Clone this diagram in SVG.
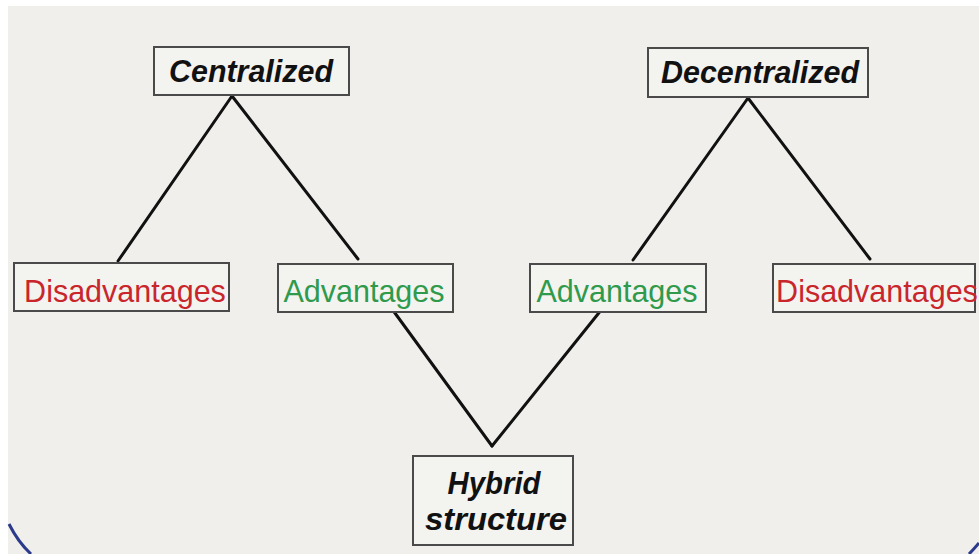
<svg xmlns="http://www.w3.org/2000/svg" width="979" height="554" viewBox="0 0 979 554">
<style>
.box{fill:#f3f3f0;stroke:#4a4a4a;stroke-width:2}
.title{font-family:"Liberation Sans",Arial,sans-serif;font-weight:bold;font-style:italic;font-size:31px;fill:#111;text-anchor:middle}
.lbl{font-family:"Liberation Sans",Arial,sans-serif;font-size:30.5px;text-anchor:middle}
.red{fill:#c9262c}
.green{fill:#2f9a4c}
.conn line{stroke:#111;stroke-width:3;stroke-linecap:round}
</style>
<rect x="0" y="0" width="979" height="554" fill="#ffffff"/>
<rect x="8" y="6" width="971" height="548" fill="#f0efeb"/>
<path d="M9,524 Q18,542 31,554" fill="none" stroke="#2b3a8c" stroke-width="3"/>
<path d="M969,554 Q974,549 979,543" fill="none" stroke="#2b3a8c" stroke-width="3"/>
<g class="conn" id="connectors">
<line x1="232" y1="96" x2="118" y2="261"/>
<line x1="232" y1="96" x2="358" y2="259"/>
<line x1="748" y1="98" x2="633" y2="260"/>
<line x1="748" y1="98" x2="870" y2="259"/>
<line x1="392" y1="309" x2="492" y2="446"/>
<line x1="602" y1="309" x2="492" y2="446"/>
</g>
<g id="centralized">
<rect class="box" x="154" y="47" width="195" height="48"/>
<text class="title" x="251" y="82" textLength="164" lengthAdjust="spacingAndGlyphs">Centralized</text>
</g>
<g id="decentralized">
<rect class="box" x="648" y="48" width="220" height="49"/>
<text class="title" x="760" y="83" textLength="198" lengthAdjust="spacingAndGlyphs">Decentralized</text>
</g>
<g id="disadvantages-left">
<rect class="box" x="14" y="263" width="215" height="48"/>
<text class="lbl red" x="125" y="302">Disadvantages</text>
</g>
<g id="advantages-left">
<rect class="box" x="278" y="264" width="175" height="48"/>
<text class="lbl green" x="364" y="302">Advantages</text>
</g>
<g id="advantages-right">
<rect class="box" x="530" y="264" width="176" height="48"/>
<text class="lbl green" x="617" y="302">Advantages</text>
</g>
<g id="disadvantages-right">
<rect class="box" x="773" y="264" width="202" height="48"/>
<text class="lbl red" x="877" y="302">Disadvantages</text>
</g>
<g id="hybrid">
<rect class="box" x="413" y="456" width="160" height="89"/>
<text class="title" x="494" y="494" textLength="93" lengthAdjust="spacingAndGlyphs">Hybrid</text>
<text class="title" x="496" y="530" textLength="142" lengthAdjust="spacingAndGlyphs">structure</text>
</g>
</svg>
